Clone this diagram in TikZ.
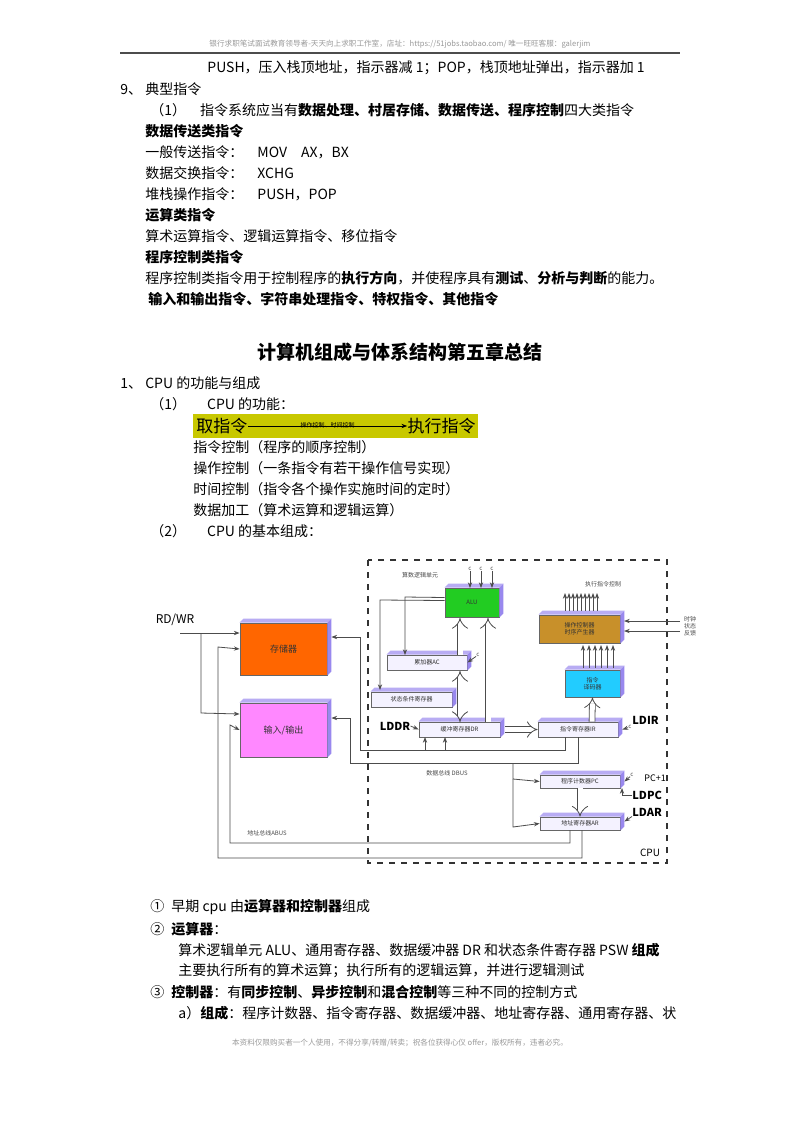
\documentclass[tikz,border=0pt]{standalone}
\usepackage{fontspec}
\setmainfont{Noto Sans CJK SC}
\usetikzlibrary{arrows.meta, calc, positioning}
\definecolor{memorange}{HTML}{FF6600}
\definecolor{iopink}{HTML}{FF88FF}
\definecolor{alugreen}{HTML}{22CC22}
\definecolor{ctrlbrown}{HTML}{C8902A}
\definecolor{deccyan}{HTML}{22CCFF}
\definecolor{sidepurple}{HTML}{9988EE}
\definecolor{regface}{HTML}{F4F2FF}
\definecolor{bannerolive}{HTML}{C8C800}
\tikzset{%
  every path/.style={thin},
    line/.style={%
        draw=black!70,
    },
    edge/.style={%
        line,
        ->,
        >={Stealth[scale=0.6]},
    },
    hollow/.style={%
        draw=black!70, double=white, double distance=2.5pt,
        -{Implies[]},
    },
    hollowboth/.style={%
        hollow, {Implies[]}-{Implies[]},
    },
    txt/.style={%
        anchor=west,
        inner sep=0pt,
        font=\fontsize{7}{8}\selectfont,
    },
    big/.style={%
        draw=black!60,
        text=black!80,
        inner sep=0pt,
        font=\fontsize{4.5}{5}\selectfont,
    },
    reg/.style={%
        big,
        fill=regface,
        font=\fontsize{3}{3.5}\selectfont,
        minimum height=7.5pt,
    },
    tiny/.style={%
        inner sep=0pt,
        font=\fontsize{3}{3.5}\selectfont,
        text=black!70,
    },
    tag/.style={%
        inner sep=0pt,
        font=\fontsize{5.5}{6}\selectfont\bfseries,
    },
}
\newcommand{\faces}[1]{%
  \fill[sidepurple!70] (#1.north west) -- ++(4,-4) -- ($(#1.north east)+(4,-4)$) -- (#1.north east) -- cycle;
  \fill[sidepurple] (#1.north east) -- ++(4,-4) -- ($(#1.south east)+(4,-4)$) -- (#1.south east) -- cycle;
}
\begin{document}
\begin{tikzpicture}[x=0.5pt, y=-0.5pt]
	\useasboundingbox (0,0) rectangle (800,1132);
	\fill[white] (0,0) rectangle (800,1132);

	% page header
	\node [tiny, font=\fontsize{3.8}{4}\selectfont, text=black!40] (header) at (400,44) {银行求职笔试面试教育领导者-天天向上求职工作室，店址：https://51jobs.taobao.com/ 唯一旺旺客服：galerjim};
	\draw [black!70, line width=1.2pt] (120,53) -- (680,53);

	% chapter 4 tail
	\node [txt] (push) at (207,68) {PUSH，压入栈顶地址，指示器减 1；POP，栈顶地址弹出，指示器加 1};
	\node [txt] (typ) at (120,89) {9、 典型指令};
	\node [txt] (four) at (150,110) {（1）\quad 指令系统应当有\textbf{数据处理、村居存储、数据传送、程序控制}四大类指令};
	\node [txt] (move) at (145,131) {\textbf{数据传送类指令}};
	\node [txt] (mov) at (145,152) {一般传送指令：\quad MOV\quad AX，BX};
	\node [txt] (xchg) at (145,173) {数据交换指令：\quad XCHG};
	\node [txt] (stack) at (145,194) {堆栈操作指令：\quad PUSH，POP};
	\node [txt] (arith) at (145,215) {\textbf{运算类指令}};
	\node [txt] (ops) at (145,236) {算术运算指令、逻辑运算指令、移位指令};
	\node [txt] (prog) at (145,257) {\textbf{程序控制类指令}};
	\node [txt] (progd) at (145,278) {程序控制类指令用于控制程序的\textbf{执行方向}，并使程序具有\textbf{测试}、\textbf{分析与判断}的能力。};
	\node [txt] (other) at (148,299) {\textbf{输入和输出指令、字符串处理指令、特权指令、其他指令}};

	% chapter 5
	\node [inner sep=0pt, font=\fontsize{9.5}{10}\selectfont\bfseries] (title) at (400,352) {计算机组成与体系结构第五章总结};
	\node [txt] (cpu) at (120,383) {1、 CPU 的功能与组成};
	\node [txt] (func) at (150,404) {（1）\quad\; CPU 的功能：};
	\fill [bannerolive] (193,414) rectangle (478,438);
	\node [txt, font=\fontsize{8.5}{9}\selectfont] (fetch) at (196,426) {取指令};
	\node [txt, font=\fontsize{8.5}{9}\selectfont, anchor=east] (exec) at (476,426) {执行指令};
	\draw [edge, black] (fetch) -- (exec) node [midway, above=-1pt, tiny, text=black] {操作控制、时间控制};
	\node [txt] (f1) at (193,447) {指令控制（程序的顺序控制）};
	\node [txt] (f2) at (193,468) {操作控制（一条指令有若干操作信号实现）};
	\node [txt] (f3) at (193,489) {时间控制（指令各个操作实施时间的定时）};
	\node [txt] (f4) at (193,510) {数据加工（算术运算和逻辑运算）};
	\node [txt] (basic) at (150,531) {（2）\quad\; CPU 的基本组成：};

	% diagram
	\draw [black!80, dashed, line width=0.8pt] (368,560) rectangle (667,863);
	\node [inner sep=0pt, font=\fontsize{5}{5}\selectfont] (cpuname) at (650,853) {CPU};

	\node [big, fill=memorange, minimum width=43.5pt, minimum height=26pt] (mem) at (283.5,649) {存储器};
	\faces{mem}
	\node [big, fill=iopink, minimum width=43.5pt, minimum height=27pt] (io) at (283.5,730) {输入/输出};
	\faces{io}
	\node [big, fill=alugreen, minimum width=27pt, minimum height=14.5pt, font=\fontsize{3}{3}\selectfont] (alu) at (472,602.5) {ALU};
	\faces{alu}
	\node [reg, minimum width=40pt] (ac) at (427,662.5) {累加器AC};
	\faces{ac}
	\node [reg, minimum width=40.5pt] (psw) at (411.5,699.5) {状态条件寄存器};
	\faces{psw}
	\node [reg, minimum width=40.5pt] (dr) at (459.5,729.5) {缓冲寄存器DR};
	\faces{dr}
	\node [reg, minimum width=40pt] (ir) at (578,729.5) {指令寄存器IR};
	\faces{ir}
	\node [big, fill=deccyan, minimum width=27.5pt, minimum height=13.5pt, font=\fontsize{3}{3.5}\selectfont, align=center] (dec) at (592.5,683.5) {指令\\译码器};
	\faces{dec}
	\node [big, fill=ctrlbrown, minimum width=40.5pt, minimum height=14pt, font=\fontsize{3}{3.5}\selectfont, align=center] (ctrl) at (579.5,629) {操作控制器\\时序产生器};
	\faces{ctrl}
	\node [reg, minimum width=40pt, minimum height=6.5pt] (pc) at (580,781.5) {程序计数器PC};
	\faces{pc}
	\node [reg, minimum width=40pt, minimum height=6.5pt] (ar) at (580,823.5) {地址寄存器AR};
	\faces{ar}

	% labels
	\node [tag, font=\fontsize{6}{6}\selectfont] (rdwr) at (175,620) {RD/WR};
	\node [tiny] (alulab) at (420,575) {算数逻辑单元};
	\node [tiny] (exlab) at (603,584) {执行指令控制};
	\node [tiny, align=left] (clk) at (690,626) {时钟\\状态\\反馈};
	\node [tag] (lddr) at (395,726) {LDDR};
	\node [tag, anchor=west] (ldir) at (632,720) {LDIR};
	\node [tag, font=\fontsize{4.5}{5}\selectfont, anchor=west] (pcinc) at (644,778) {PC+1};
	\node [tag, anchor=west] (ldpc) at (632,795) {LDPC};
	\node [tag, anchor=west] (ldar) at (632,812) {LDAR};
	\node [tiny] (dbus) at (447,773) {数据总线 DBUS};
	\node [tiny] (abus) at (267,833) {地址总线ABUS};

	% control signals c
	\foreach \x in {470,481,492} {
		\node [tiny] (c\x) at (\x,569) {c};
		\draw [edge] (c\x) -- (\x,588);
	}
	\foreach \x in {565,569,...,597} \draw [edge] (\x,611) -- (\x,593);
	\foreach \x in {583,589,...,613} \draw [edge] (\x,668) -- (\x,645);
	\foreach \y in {621,631} \draw [edge] (680,\y) -- (624,\y);
	\node [tiny] (cac) at (478,655) {c};
	\draw [edge] (cac) -- (ac.east);
	\node [tiny] (cir) at (630,727) {c};
	\draw [edge] (cir) -- ($(ir.east)+(4,0)$);
	\node [tiny] (cpc) at (632,775) {c};
	\draw [edge] (cpc) -- ($(pc.east)+(4,0)$);
	\draw [edge] (ldpc.west) -- ++(-10,0) -- ++(0,-7);
	\coordinate (ldarin) at ($(ar.east)+(4,-2)$);
	\draw [edge] (ldar.south west) -- (ldarin);
	\draw [edge] (lddr.east) -- (dr.west);

	% RD/WR lines
	\coordinate (rdstart) at (180,633);
	\draw [edge] (rdstart) -- ($(mem.west)+(0,-16)$);
	\draw [edge] (201,633) -- (201,713) -- ($(io.west)+(0,-16)$);

	% ALU feedback
	\draw [edge] (alu.west) ++(0,-5) -- (405,597) -- (405,655);
	\draw [edge] (alu.west) ++(0,-2) -- (380,600) -- (380,690);
	\draw [hollow] (ac.north -| 460,0) -- (460,618);
	\draw [hollow] (dr.north -| 488,0) -- (488,618);
	\draw [hollowboth] (460,722) -- (460,671);
	\draw [hollow] (dr.east) ++(5,0) -- (ir.west);
	\draw [hollow] (ir.north -| 592,0) -- (dec.south);
	\draw [hollow] (pc.south) -- (ar.north);

	% data bus
	\draw [line] (360,637) -- (360,750) -- (565,750) -- (565,737);
	\draw [edge] (360,637) -- ($(mem.east)+(4,-12)$);
	\draw [edge] (425,750) -- (425,737);
	\draw [edge] (445,750) -- (445,737);
	\draw [line] (350,718) -- (350,763) -- (578,763) -- (578,737);
	\draw [edge] (350,718) -- ($(io.east)+(4,-12)$);
	\draw [edge] (513,763) -- (513,779) -- (pc.west);
	\draw [edge] (513,779) -- (513,827) -- (ar.west);

	% address bus
	\draw [edge] (570,830) -- (570,843) -- (230,843) -- (230,725) -- (io.west);
	\draw [edge] (582,830) -- (582,858) -- (218,858) -- (218,647) -- (mem.west);

	% after diagram
	\node [txt] (early) at (150,907) {①\; 早期 cpu 由\textbf{运算器和控制器}组成};
	\node [txt] (alu2) at (150,929) {②\; \textbf{运算器}：};
	\node [txt] (alu3) at (178,950) {算术逻辑单元 ALU、通用寄存器、数据缓冲器 DR 和状态条件寄存器 PSW \textbf{组成}};
	\node [txt] (alu4) at (178,971) {主要执行所有的算术运算；执行所有的逻辑运算，并进行逻辑测试};
	\node [txt] (ctl) at (150,992) {③\; \textbf{控制器}：有\textbf{同步控制}、\textbf{异步控制}和\textbf{混合控制}等三种不同的控制方式};
	\node [txt] (ctl2) at (178,1013) {a）\textbf{组成}：程序计数器、指令寄存器、数据缓冲器、地址寄存器、通用寄存器、状};

	% footer
	\node [tiny, font=\fontsize{3.8}{4}\selectfont, text=black!40] (footer) at (400,1043) {本资料仅限购买者一个人使用，不得分享/转赠/转卖；祝各位获得心仪 offer，版权所有，违者必究。};
\end{tikzpicture}
\end{document}
